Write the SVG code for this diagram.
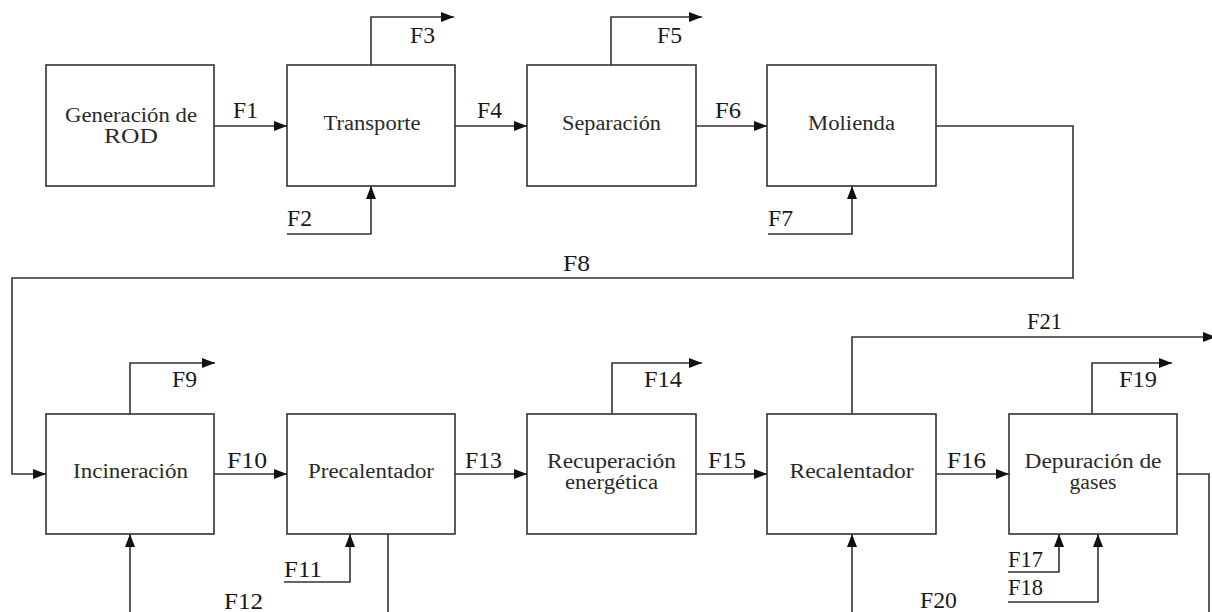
<svg xmlns="http://www.w3.org/2000/svg" width="1212" height="612" viewBox="0 0 1212 612">
<style>
.box{fill:#fff;stroke:#333;stroke-width:1.6}
.bt{fill:#2a2a2a;text-anchor:middle}
.lb{fill:#1a1a1a}
.ln{fill:none;stroke:#333;stroke-width:1.6}
</style>
<defs>
<marker id="ah" viewBox="0 0 13 10" refX="13" refY="5" markerWidth="13" markerHeight="10" markerUnits="userSpaceOnUse" orient="auto">
<path d="M0,0 L13,5 L0,10 Z" fill="#111"/>
</marker>
</defs>
<rect width="1212" height="612" fill="#fff"/>
<g id="connectors">
<path class="ln" d="M214,126 H287" marker-end="url(#ah)"/>
<path class="ln" d="M455,126 H527" marker-end="url(#ah)"/>
<path class="ln" d="M696,126 H767" marker-end="url(#ah)"/>
<path class="ln" d="M371,65 V17 H454" marker-end="url(#ah)"/>
<path class="ln" d="M611,65 V17 H702" marker-end="url(#ah)"/>
<path class="ln" d="M287,234 H371 V186" marker-end="url(#ah)"/>
<path class="ln" d="M768,234 H852 V186" marker-end="url(#ah)"/>
<path class="ln" d="M936,126 H1073 V278 H12 V474 H46" marker-end="url(#ah)"/>
<path class="ln" d="M130,414 V363 H215" marker-end="url(#ah)"/>
<path class="ln" d="M214,474 H287" marker-end="url(#ah)"/>
<path class="ln" d="M130,612 V534" marker-end="url(#ah)"/>
<path class="ln" d="M388,534 V612"/>
<path class="ln" d="M284,582 H350 V534" marker-end="url(#ah)"/>
<path class="ln" d="M455,474 H527" marker-end="url(#ah)"/>
<path class="ln" d="M612,414 V363 H702" marker-end="url(#ah)"/>
<path class="ln" d="M696,474 H767" marker-end="url(#ah)"/>
<path class="ln" d="M852,414 V337 H1216" marker-end="url(#ah)"/>
<path class="ln" d="M936,474 H1009" marker-end="url(#ah)"/>
<path class="ln" d="M1092,414 V363 H1172" marker-end="url(#ah)"/>
<path class="ln" d="M1008,572 H1059 V534" marker-end="url(#ah)"/>
<path class="ln" d="M1008,602 H1098 V534" marker-end="url(#ah)"/>
<path class="ln" d="M852,612 V534" marker-end="url(#ah)"/>
<path class="ln" d="M1177,474 H1209 V612"/>
<g font-family="Liberation Serif, Times New Roman, serif" font-size="23">
<text class="lb" x="233" y="118" textLength="25" lengthAdjust="spacingAndGlyphs">F1</text>
<text class="lb" x="410" y="43" textLength="25" lengthAdjust="spacingAndGlyphs">F3</text>
<text class="lb" x="287" y="226" textLength="25" lengthAdjust="spacingAndGlyphs">F2</text>
<text class="lb" x="477" y="118" textLength="25" lengthAdjust="spacingAndGlyphs">F4</text>
<text class="lb" x="657" y="43" textLength="25" lengthAdjust="spacingAndGlyphs">F5</text>
<text class="lb" x="715" y="118" textLength="26" lengthAdjust="spacingAndGlyphs">F6</text>
<text class="lb" x="768" y="226" textLength="25" lengthAdjust="spacingAndGlyphs">F7</text>
<text class="lb" x="563" y="271" textLength="27" lengthAdjust="spacingAndGlyphs">F8</text>
<text class="lb" x="172" y="387" textLength="25" lengthAdjust="spacingAndGlyphs">F9</text>
<text class="lb" x="227" y="468" textLength="40" lengthAdjust="spacingAndGlyphs">F10</text>
<text class="lb" x="284" y="577" textLength="38" lengthAdjust="spacingAndGlyphs">F11</text>
<text class="lb" x="224" y="609" textLength="39" lengthAdjust="spacingAndGlyphs">F12</text>
<text class="lb" x="465" y="468" textLength="37" lengthAdjust="spacingAndGlyphs">F13</text>
<text class="lb" x="644" y="387" textLength="38" lengthAdjust="spacingAndGlyphs">F14</text>
<text class="lb" x="708" y="468" textLength="38" lengthAdjust="spacingAndGlyphs">F15</text>
<text class="lb" x="947" y="468" textLength="39" lengthAdjust="spacingAndGlyphs">F16</text>
<text class="lb" x="1008" y="567" textLength="35" lengthAdjust="spacingAndGlyphs">F17</text>
<text class="lb" x="1008" y="595" textLength="35" lengthAdjust="spacingAndGlyphs">F18</text>
<text class="lb" x="1119" y="387" textLength="38" lengthAdjust="spacingAndGlyphs">F19</text>
<text class="lb" x="920" y="608" textLength="37" lengthAdjust="spacingAndGlyphs">F20</text>
<text class="lb" x="1027" y="329" textLength="35" lengthAdjust="spacingAndGlyphs">F21</text>
</g>
</g>
<g font-family="Liberation Serif, Times New Roman, serif" font-size="20">
<g id="generacion">
<rect class="box" x="46" y="65" width="168" height="121"/>
<text class="bt" x="131" y="122" textLength="132" lengthAdjust="spacingAndGlyphs">Generación de</text>
<text class="bt" x="131" y="143" textLength="54" lengthAdjust="spacingAndGlyphs">ROD</text>
</g>
<g id="transporte">
<rect class="box" x="287" y="65" width="168" height="121"/>
<text class="bt" x="372" y="130" textLength="97" lengthAdjust="spacingAndGlyphs">Transporte</text>
</g>
<g id="separacion">
<rect class="box" x="527" y="65" width="169" height="121"/>
<text class="bt" x="611.5" y="130" textLength="99" lengthAdjust="spacingAndGlyphs">Separación</text>
</g>
<g id="molienda">
<rect class="box" x="767" y="65" width="169" height="121"/>
<text class="bt" x="851.5" y="130" textLength="87" lengthAdjust="spacingAndGlyphs">Molienda</text>
</g>
<g id="incineracion">
<rect class="box" x="46" y="414" width="168" height="120"/>
<text class="bt" x="130.5" y="478" textLength="115" lengthAdjust="spacingAndGlyphs">Incineración</text>
</g>
<g id="precalentador">
<rect class="box" x="287" y="414" width="168" height="120"/>
<text class="bt" x="371" y="478" textLength="126" lengthAdjust="spacingAndGlyphs">Precalentador</text>
</g>
<g id="recuperacion">
<rect class="box" x="527" y="414" width="169" height="120"/>
<text class="bt" x="611.5" y="468" textLength="129" lengthAdjust="spacingAndGlyphs">Recuperación</text>
<text class="bt" x="611.5" y="489" textLength="93" lengthAdjust="spacingAndGlyphs">energética</text>
</g>
<g id="recalentador">
<rect class="box" x="767" y="414" width="169" height="120"/>
<text class="bt" x="851.5" y="478" textLength="124" lengthAdjust="spacingAndGlyphs">Recalentador</text>
</g>
<g id="depuracion">
<rect class="box" x="1009" y="414" width="168" height="120"/>
<text class="bt" x="1093" y="468" textLength="137" lengthAdjust="spacingAndGlyphs">Depuración de</text>
<text class="bt" x="1093" y="489" textLength="47" lengthAdjust="spacingAndGlyphs">gases</text>
</g>
</g>
</svg>
